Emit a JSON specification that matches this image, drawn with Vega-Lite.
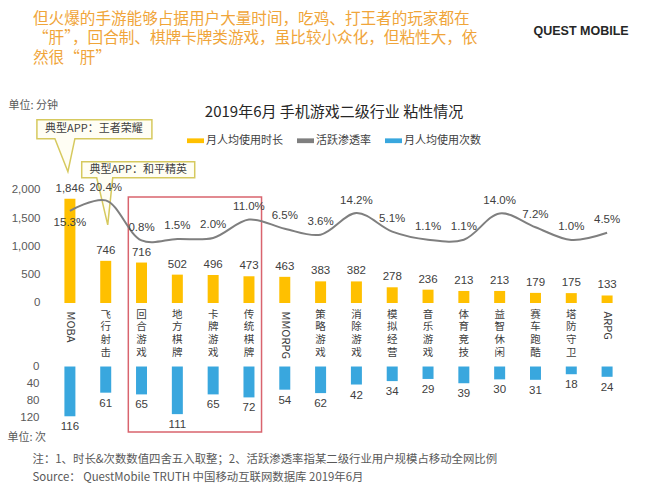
{
  "$schema": "https://vega.github.io/schema/vega-lite/v6.json",
  "width": 573,
  "height": 340,
  "autosize": "none",
  "padding": {"left": 52, "top": 100, "right": 32, "bottom": 60},
  "background": "white",
  "data": {"values": [
    {"cat": "MOBA", "minutes": 1846, "counts": 116, "rate": 0.153, "app": "典型APP：王者荣耀"},
    {"cat": "飞行射击", "minutes": 746, "counts": 61, "rate": 0.204, "app": "典型APP：和平精英"},
    {"cat": "回合游戏", "minutes": 716, "counts": 65, "rate": 0.008},
    {"cat": "地方棋牌", "minutes": 502, "counts": 111, "rate": 0.015},
    {"cat": "卡牌游戏", "minutes": 496, "counts": 65, "rate": 0.020},
    {"cat": "传统棋牌", "minutes": 473, "counts": 72, "rate": 0.110},
    {"cat": "MMORPG", "minutes": 463, "counts": 54, "rate": 0.065},
    {"cat": "策略游戏", "minutes": 383, "counts": 62, "rate": 0.036},
    {"cat": "消除游戏", "minutes": 382, "counts": 42, "rate": 0.142},
    {"cat": "模拟经营", "minutes": 278, "counts": 34, "rate": 0.051},
    {"cat": "音乐游戏", "minutes": 236, "counts": 29, "rate": 0.011},
    {"cat": "体育竞技", "minutes": 213, "counts": 39, "rate": 0.011},
    {"cat": "益智休闲", "minutes": 213, "counts": 30, "rate": 0.140},
    {"cat": "赛车跑酷", "minutes": 179, "counts": 31, "rate": 0.072},
    {"cat": "塔防守卫", "minutes": 175, "counts": 18, "rate": 0.010},
    {"cat": "ARPG", "minutes": 133, "counts": 24, "rate": 0.045}
  ]},
  "layer": [
    {
      "encoding": {
        "x": {
          "field": "cat", "type": "nominal", "sort": null,
          "scale": {
            "domain": ["MOBA", "飞行射击", "回合游戏", "地方棋牌", "卡牌游戏", "传统棋牌", "MMORPG", "策略游戏", "消除游戏", "模拟经营", "音乐游戏", "体育竞技", "益智休闲", "赛车跑酷", "塔防守卫", "ARPG"],
            "paddingInner": 0.1, "paddingOuter": 0.05
          },
          "axis": {
            "orient": "bottom", "offset": -131, "domain": false, "ticks": false, "tickSize": 0, "grid": false,
            "labelPadding": 0, "labelAngle": 0, "labelAlign": "center", "labelBaseline": "top",
            "labelFont": "Noto Sans CJK SC", "labelFontSize": 10.5,
            "labelColor": "#404040", "labelLineHeight": 12.8, "labelOverlap": false, "labelBound": false,
            "labelFlush": false, "labelLimit": 0,
            "labelExpr": "test(/^[A-Z]/, datum.value) ? '' : split(datum.value, '')",
            "title": ["注：1、时长&次数数值四舍五入取整；2、活跃渗透率指某二级行业用户规模占移动全网比例", "Source：  QuestMobile TRUTH 中国移动互联网数据库 2019年6月"],
            "titleX": -20, "titleY": 144, "titleAlign": "left", "titleAnchor": "start", "titleBaseline": "top",
            "titleAngle": 0, "titleFont": "Noto Sans CJK SC", "titleFontSize": 11.4, "titleFontWeight": "normal",
            "titleColor": "#595959", "titleLineHeight": 18
          }
        },
        "y": {
          "field": "minutes", "type": "quantitative",
          "scale": {"domain": [-2424.8, 3592.9]},
          "axis": {
            "orient": "left", "values": [0, 500, 1000, 1500, 2000], "labelExpr": "format(datum.value, ',')", "domain": false, "ticks": false,
            "grid": false, "labelPadding": 12, "labelFont": "Liberation Sans", "labelFontSize": 11.5, "labelColor": "#595959",
            "title": "单位: 分钟", "titleAngle": 0, "titleAlign": "left", "titleBaseline": "middle", "titleX": -44, "titleY": 5,
            "titleFont": "Noto Sans CJK SC", "titleFontSize": 11, "titleFontWeight": "normal", "titleColor": "#595959"
          }
        }
      },
      "layer": [
        {
          "mark": {"type": "bar", "size": 11},
          "encoding": {
            "y2": {"datum": 0},
            "color": {
              "datum": "月人均使用时长", "type": "nominal", "title": "2019年6月 手机游戏二级行业 粘性情况",
              "scale": {"domain": ["月人均使用时长", "活跃渗透率", "月人均使用次数"], "range": ["#FFC000", "#7F7F7F", "#39A7DE"]},
              "legend": {
                "orient": "none", "legendX": 135, "legendY": 5, "direction": "horizontal",
                "titleAnchor": "middle", "titleOrient": "top", "titleFont": "Noto Sans CJK SC", "titleFontSize": 15,
                "titleFontWeight": "normal", "titleColor": "#262626", "titlePadding": 12, "titleLimit": 0,
                "labelFont": "Noto Sans CJK SC", "labelFontSize": 11, "labelColor": "#404040", "labelLimit": 0,
                "symbolType": "M-1,-0.28H1V0.28H-1Z", "symbolSize": 289, "symbolStrokeWidth": 0, "symbolOpacity": 1,
                "labelOffset": 2, "columnPadding": 14, "padding": 0
              }
            }
          }
        },
        {
          "mark": {"type": "text", "dy": -10, "baseline": "middle", "font": "Liberation Sans", "fontSize": 11.5, "color": "#404040"},
          "encoding": {"text": {"field": "minutes", "type": "quantitative", "format": ","}}
        },
        {
          "transform": [{"filter": "datum.cat === 'MOBA'"}],
          "mark": {"type": "point", "shape": "M-33,-79H82V-60H5L-2,-27L-15,-60H-33Z", "size": 4, "filled": true, "fill": "#FFFEF4", "stroke": "#D6C95E", "strokeWidth": 1.5, "opacity": 1}
        },
        {
          "transform": [{"filter": "datum.cat === '飞行射击'"}],
          "mark": {"type": "point", "shape": "M-24,-99H89V-83H7L2,-36L-9,-83H-24Z", "size": 4, "filled": true, "fill": "#FFFEF4", "stroke": "#D6C95E", "strokeWidth": 1.5, "opacity": 1}
        },
        {
          "transform": [{"filter": "datum.cat === 'MOBA'"}],
          "mark": {"type": "text", "dx": 24, "dy": -69.5, "baseline": "middle", "font": "Noto Sans CJK SC", "fontSize": 11, "color": "#404040"},
          "encoding": {"text": {"field": "app"}}
        },
        {
          "transform": [{"filter": "datum.cat === '飞行射击'"}],
          "mark": {"type": "text", "dx": 32.5, "dy": -91, "baseline": "middle", "font": "Noto Sans CJK SC", "fontSize": 11, "color": "#404040"},
          "encoding": {"text": {"field": "app"}}
        }
      ]
    },
    {
      "encoding": {
        "x": {
          "field": "cat", "type": "nominal", "sort": null,
          "axis": {
            "orient": "bottom", "offset": -131, "domain": false, "ticks": false, "tickSize": 0, "grid": false,
            "labelPadding": 2, "labelAngle": 90, "labelAlign": "left", "labelBaseline": "middle",
            "labelFont": "Noto Sans CJK SC", "labelFontSize": 11, "labelColor": "#404040",
            "labelOverlap": false, "labelBound": false, "labelFlush": false, "labelLimit": 0,
            "labelExpr": "test(/^[A-Z]/, datum.value) ? datum.value : ''",
            "title": null
          }
        },
        "y": {
          "field": "counts", "type": "quantitative",
          "scale": {"domain": [-621.2, 171.3], "reverse": true},
          "axis": {
            "orient": "left", "values": [0, 40, 80, 120], "domain": false, "ticks": false, "grid": false,
            "labelPadding": 13, "labelFont": "Liberation Sans", "labelFontSize": 11.5, "labelColor": "#595959",
            "title": "单位: 次", "titleAngle": 0, "titleAlign": "left", "titleBaseline": "middle", "titleX": -45, "titleY": 337,
            "titleFont": "Noto Sans CJK SC", "titleFontSize": 11, "titleFontWeight": "normal", "titleColor": "#595959"
          }
        }
      },
      "layer": [
        {
          "mark": {"type": "bar", "size": 11},
          "encoding": {
            "y2": {"datum": 0},
            "color": {"datum": "月人均使用次数", "type": "nominal", "title": "2019年6月 手机游戏二级行业 粘性情况"}
          }
        },
        {
          "mark": {"type": "text", "dy": 11, "baseline": "middle", "font": "Liberation Sans", "fontSize": 11.5, "color": "#404040"},
          "encoding": {"text": {"field": "counts", "type": "quantitative"}}
        }
      ]
    },
    {
      "data": {"values": [{"from": "回合游戏", "to": "传统棋牌", "top": 1876, "bottom": -2283}]},
      "mark": {"type": "rect", "fill": "transparent", "stroke": "#D9646E", "strokeWidth": 1.5},
      "encoding": {
        "x": {"field": "from", "type": "nominal", "bandPosition": 0.09, "axis": null},
        "x2": {"field": "to", "bandPosition": 0.89},
        "y": {"field": "top", "type": "quantitative", "scale": {"domain": [-2424.8, 3592.9]}, "axis": null},
        "y2": {"field": "bottom"}
      }
    },
    {
      "encoding": {
        "x": {
          "field": "cat", "type": "nominal", "sort": null,
          "axis": {
            "orient": "top", "labels": false, "ticks": false, "domain": false, "grid": false,
            "title": ["但火爆的手游能够占据用户大量时间，吃鸡、打王者的玩家都在", "“肝”，回合制、棋牌卡牌类游戏，虽比较小众化，但粘性大，依", "然很“肝”"],
            "titleX": -19.5, "titleY": -89, "titleAlign": "left", "titleAnchor": "start", "titleBaseline": "top", "titleAngle": 0,
            "titleFont": "Noto Sans CJK SC", "titleFontSize": 15.6, "titleFontWeight": "normal", "titleColor": "#F0A53A", "titleLineHeight": 19.5
          }
        },
        "y": {
          "field": "rate", "type": "quantitative",
          "scale": {"domain": [-0.9706, 0.696]},
          "axis": {
            "orient": "right", "labels": false, "ticks": false, "domain": false, "grid": false,
            "title": "QUEST MOBILE", "titleX": -92, "titleY": -70, "titleAlign": "left", "titleBaseline": "middle", "titleAngle": 0,
            "titleFont": "Liberation Sans", "titleFontSize": 12.5, "titleFontWeight": "bold", "titleColor": "#262626"
          }
        }
      },
      "layer": [
        {
          "mark": {"type": "line", "interpolate": "catmull-rom", "strokeWidth": 2},
          "encoding": {"color": {"datum": "活跃渗透率", "type": "nominal", "title": "2019年6月 手机游戏二级行业 粘性情况"}}
        },
        {
          "transform": [{"filter": "datum.cat !== 'MOBA'"}],
          "mark": {"type": "text", "dy": -12.5, "baseline": "middle", "font": "Liberation Sans", "fontSize": 11.5, "color": "#404040"},
          "encoding": {"text": {"field": "rate", "type": "quantitative", "format": ".1%"}}
        },
        {
          "transform": [{"filter": "datum.cat === 'MOBA'"}],
          "mark": {"type": "text", "dy": 12.5, "baseline": "middle", "font": "Liberation Sans", "fontSize": 11.5, "color": "#404040"},
          "encoding": {"text": {"field": "rate", "type": "quantitative", "format": ".1%"}}
        }
      ]
    }
  ],
  "resolve": {"scale": {"y": "independent"}, "axis": {"y": "independent", "x": "independent"}},
  "config": {"view": {"stroke": null}, "font": "Noto Sans CJK SC"}
}
